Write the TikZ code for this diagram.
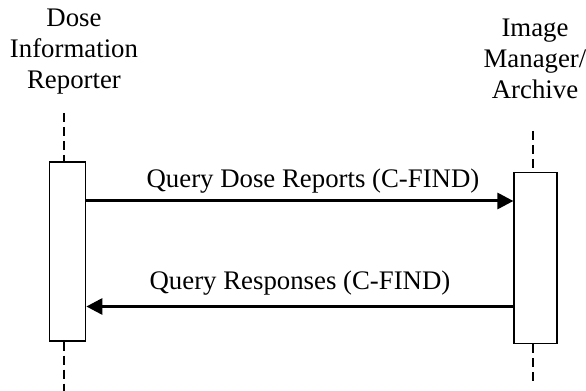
\documentclass[tikz,border=0pt]{standalone}
\usepackage{fontspec}
\setmainfont{Liberation Serif}
\usetikzlibrary{arrows.meta, positioning}

\tikzset{
  lifeline/.style={line width=1pt, dash pattern=on 4.5pt off 2.5pt},
  actbox/.style={rectangle, draw, line width=0.6pt, fill=white, inner sep=0pt},
  msg/.style={line width=1.5pt, -{Triangle[length=8pt,width=8pt]}},
  actor/.style={align=center, inner sep=0pt, anchor=north, font=\fontsize{13.4}{15.5}\selectfont},
  msglabel/.style={anchor=base, inner sep=0pt, font=\fontsize{13.4}{15.5}\selectfont}
}

\begin{document}
\begin{tikzpicture}[x=0.5pt, y=-0.5pt]
  \useasboundingbox (0,0) rectangle (586,391);

  % Dose Information Reporter
  \node[actor] (dir) at (74,8.3) {Dose\\Information\\Reporter};
  \node[actbox, minimum width=18.25pt, minimum height=89.5pt] (dirBox) at (67.5,251.5) {};
  \coordinate (dirTop) at (64.5,113);
  \coordinate (dirEnd) at (64.5,391);
  \draw[lifeline] (dirTop) -- (dirTop |- dirBox.north);
  \draw[lifeline] (dirTop |- dirBox.south) -- (dirEnd);

  % Image Manager/Archive
  \node[actor] (ima) at (535,18.3) {Image\\Manager/\\Archive};
  \node[actbox, minimum width=21.5pt, minimum height=85.5pt] (imaBox) at (535.5,258) {};
  \coordinate (imaTop) at (533,131);
  \coordinate (imaEnd) at (533,385);
  \draw[lifeline] (imaTop) -- (imaTop |- imaBox.north);
  \draw[lifeline] (imaTop |- imaBox.south) -- (imaEnd);

  % Messages
  \coordinate (q1) at (0,201);
  \coordinate (q2) at (0,306.5);
  \draw[msg] (dirBox.east |- q1) -- (imaBox.west |- q1);
  \node[msglabel] (q1Label) at (313,188) {Query Dose Reports (C-FIND)};
  \draw[msg] (imaBox.west |- q2) -- (dirBox.east |- q2);
  \node[msglabel] (q2Label) at (300,290) {Query Responses (C-FIND)};
\end{tikzpicture}
\end{document}
